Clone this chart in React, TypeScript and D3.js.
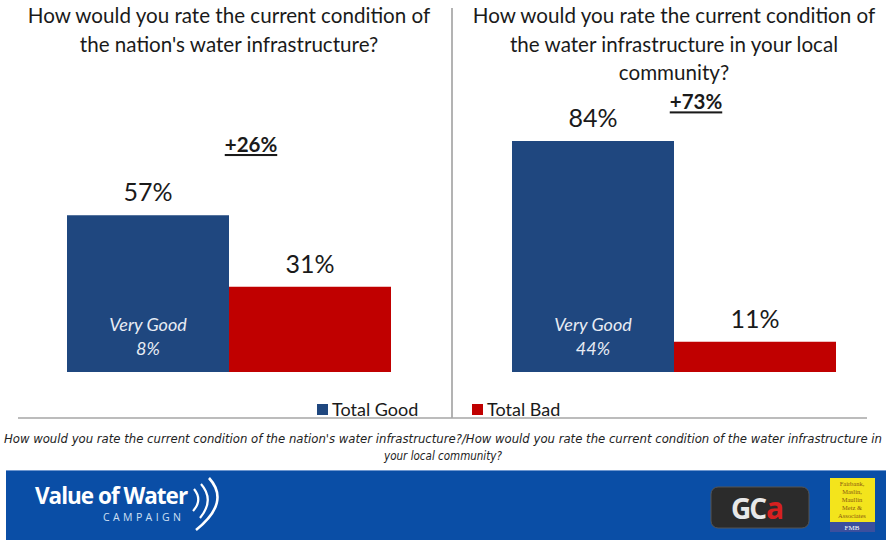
import React from "react";
import * as d3 from "d3";

const panelTitles: string[][] = [
  ["How would you rate the current condition of", "the nation's water infrastructure?"],
  ["How would you rate the current condition of", "the water infrastructure in your local", "community?"],
];
const categories = ["Total Good", "Total Bad"];
const goodValues = [57, 84];
const badValues = [31, 11];
const veryGoodValues = [8, 44];
const diffLabels = ["+26%", "+73%"];
const diffLevels = [80, 95.5];
const footnote = [
  "How would you rate the current condition of the nation's water infrastructure?/How would you rate the current condition of the water infrastructure in",
  "your local community?",
];

const W = 886;
const H = 540;
const BLUE = "#1f477f";
const RED = "#c00000";
const FONT = "Lato, 'Open Sans', sans-serif";

export default function App() {
  const y = d3.scaleLinear().domain([0, 100]).range([372, 97]);
  const panelRanges: [number, number][] = [
    [67, 391],
    [512, 836],
  ];
  const titleCx = [229, 674];

  return (
    <svg width={W} height={H} style={{ position: "absolute", left: 0, top: 0, background: "#fff" }} fontFamily={FONT}>
      <rect x={0} y={0} width={W} height={H} fill="#fff" />
      {/* separators */}
      <line x1={452} x2={452} y1={8} y2={418} stroke="#9a9a9a" strokeWidth={1.5} />
      <line x1={18} x2={867} y1={418} y2={418} stroke="#a6a6a6" strokeWidth={1.5} />

      {[0, 1].map((p) => {
        const x = d3.scaleBand<string>().domain(categories).range(panelRanges[p]).paddingInner(0).paddingOuter(0);
        const bw = x.bandwidth();
        const vals = [goodValues[p], badValues[p]];
        const boundary = x(categories[1]) as number;
        return (
          <g key={p}>
            {panelTitles[p].map((t, i) => (
              <text key={i} x={titleCx[p]} y={23 + i * 28.5} textAnchor="middle" fontSize={20.6} fill="#1a1a1a">
                {t}
              </text>
            ))}
            {categories.map((c, i) => (
              <g key={c}>
                <rect x={x(c)} y={y(vals[i])} width={bw} height={y(0) - y(vals[i])} fill={i === 0 ? BLUE : RED} />
                <text x={(x(c) as number) + bw / 2} y={y(vals[i]) - 14} textAnchor="middle" fontSize={25} fill="#1a1a1a">
                  {vals[i]}%
                </text>
              </g>
            ))}
            <text x={(x(categories[0]) as number) + bw / 2} y={331} textAnchor="middle" fontSize={18} fontStyle="italic" fill="#e8ecf4">
              Very Good
            </text>
            <text x={(x(categories[0]) as number) + bw / 2} y={355} textAnchor="middle" fontSize={18} fontStyle="italic" fill="#e8ecf4">
              {veryGoodValues[p]}%
            </text>
            <text x={boundary + 22} y={y(diffLevels[p])} textAnchor="middle" fontSize={20.5} fontWeight="bold" fill="#1a1a1a" textDecoration="underline">
              {diffLabels[p]}
            </text>
          </g>
        );
      })}

      {/* legend */}
      <rect x={317} y={404} width={11} height={11} fill={BLUE} />
      <text x={332} y={416} fontSize={18} fill="#1a1a1a">{categories[0]}</text>
      <rect x={472} y={404} width={11} height={11} fill={RED} />
      <text x={487} y={416} fontSize={18} fill="#1a1a1a">{categories[1]}</text>

      {/* footnote */}
      {footnote.map((t, i) => (
        <text key={i} x={443} y={443 + i * 17} textAnchor="middle" fontSize={11.5} fontStyle="italic" fill="#222"
          fontFamily="'DejaVu Sans Condensed', 'Liberation Sans Narrow', sans-serif"
          {...(i === 0 ? { textLength: 878, lengthAdjust: "spacingAndGlyphs" } : {})}>
          {t}
        </text>
      ))}

      {/* footer band */}
      <rect x={6} y={470} width={W - 6} height={70} fill="#0a4ea6" />
      <line x1={6} x2={W} y1={470.5} y2={470.5} stroke="#6f97cf" strokeWidth={1} />
      <text x={35} y={504} fontSize={22.5} fontWeight="bold" fill="#fff" fontFamily="'Open Sans', sans-serif" letterSpacing={-1}>
        Value of Water
      </text>
      <text x={103} y={521} fontSize={10.5} fill="#cfe0f5" fontFamily="'Open Sans', sans-serif" letterSpacing={3.4}>
        CAMPAIGN
      </text>
      <path d="M194,489 Q203,500 193,511" fill="none" stroke="#fff" strokeWidth={2.2} />
      <path d="M201,484 Q215,500 200,518" fill="none" stroke="#fff" strokeWidth={2.2} />
      <path d="M209,478 Q231,502 196,530" fill="none" stroke="#fff" strokeWidth={2.6} />

      {/* GCA logo */}
      <rect x={711} y={487} width={98} height={41} rx={7} fill="#2b2b2b" stroke="#555" />
      <text x={731} y={519} fontSize={28} fontWeight="bold" fill="#e8e8e8" fontFamily="'Open Sans', sans-serif" letterSpacing={-2}>GC</text>
      <text x={766} y={519} fontSize={30} fontWeight="bold" fill="#d62020" fontFamily="'Open Sans', sans-serif">a</text>

      {/* FMB logo */}
      <rect x={830} y={478} width={45} height={44} fill="#f3e41c" />
      <rect x={830} y={522} width={45} height={10} fill="#3b4f9e" />
      {["Fairbank,", "Maslin,", "Maullin", "Metz &", "Associates"].map((t, i) => (
        <text key={i} x={852} y={486 + i * 8} fontSize={6.5} fill="#8a5a10" textAnchor="middle" fontFamily="serif">{t}</text>
      ))}
      <text x={852} y={530} fontSize={7} fill="#fff" textAnchor="middle" fontFamily="serif">FMB</text>
    </svg>
  );
}
